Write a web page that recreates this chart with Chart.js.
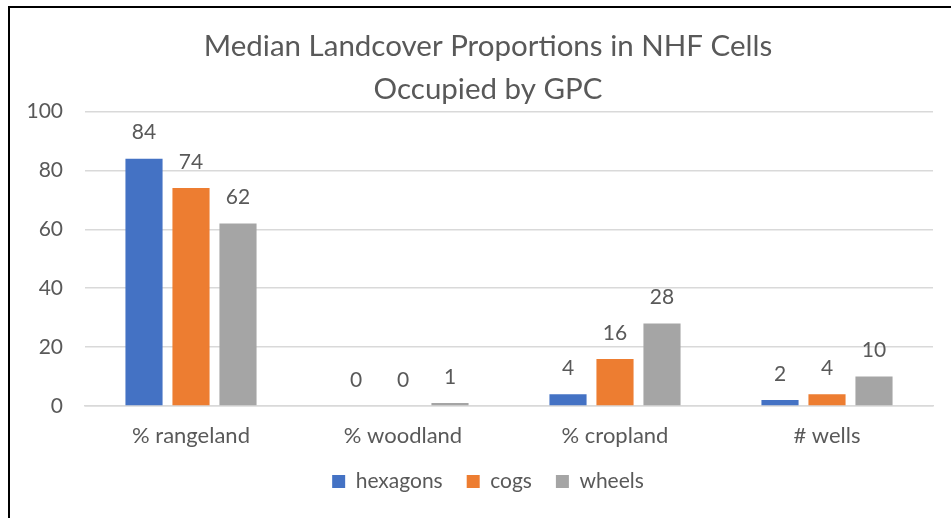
<!DOCTYPE html>
<html>
<head>
<meta charset="utf-8">
<script src="https://cdn.jsdelivr.net/npm/chart.js@4/dist/chart.umd.min.js"></script>
<style>
  html, body { margin: 0; padding: 0; background: #fff; overflow: hidden; }
  #frame {
    position: absolute; left: 8px; top: 6px;
    width: 958px; height: 512px;
    border-left: 2px solid #000; border-top: 2px solid #000;
    overflow: hidden;
  }
  #chart { display: block; }
</style>
</head>
<body>
<div id="frame"><canvas id="chart" width="956" height="510"></canvas></div>
<script>
// 数据
const categories = ['% rangeland', '% woodland', '% cropland', '# wells'];
const hexagons = [84, 0, 4, 2];
const cogs = [74, 0, 16, 4];
const wheels = [62, 1, 28, 10];
const titleLines = ['Median Landcover Proportions in NHF Cells', 'Occupied by GPC'];

const textColor = '#595959';
const fontFamily = 'Lato, "Open Sans", sans-serif';

// 柱顶数值标签
const valueLabels = {
  id: 'valueLabels',
  afterDatasetsDraw(chart) {
    const ctx = chart.ctx;
    ctx.save();
    ctx.fillStyle = textColor;
    ctx.font = '21px ' + fontFamily;
    ctx.textAlign = 'center';
    ctx.textBaseline = 'middle';
    chart.data.datasets.forEach((ds, i) => {
      chart.getDatasetMeta(i).data.forEach((bar, j) => {
        ctx.fillText(ds.data[j], bar.x, bar.y - 26);
      });
    });
    ctx.restore();
  }
};

new Chart(document.getElementById('chart').getContext('2d'), {
  type: 'bar',
  data: {
    labels: categories,
    datasets: [
      { label: 'hexagons', data: hexagons, backgroundColor: '#4472C4' },
      { label: 'cogs', data: cogs, backgroundColor: '#ED7D31' },
      { label: 'wheels', data: wheels, backgroundColor: '#A5A5A5' }
    ]
  },
  options: {
    responsive: false,
    animation: false,
    layout: { padding: { left: 0, right: 0, top: 0, bottom: 16 } },
    datasets: { bar: { categoryPercentage: 0.665, barPercentage: 0.79 } },
    scales: {
      x: {
        afterFit: (s) => { s.height = 41; },
        grid: { display: false, drawTicks: false },
        border: { color: '#d9d9d9', width: 1.5 },
        ticks: { color: textColor, font: { family: fontFamily, size: 22, lineHeight: 1 }, padding: 19 }
      },
      y: {
        min: 0, max: 100,
        afterFit: (s) => { s.width = 75; },
        grid: { color: '#d9d9d9', lineWidth: 1.5, drawTicks: false },
        border: { display: false },
        ticks: { stepSize: 20, color: textColor, font: { family: fontFamily, size: 21 }, padding: 22 }
      },
      // 右侧留白
      yRight: {
        position: 'right',
        afterFit: (s) => { s.width = 33; },
        grid: { display: false },
        border: { display: false },
        ticks: { display: false }
      }
    },
    plugins: {
      tooltip: { enabled: false },
      title: {
        display: true,
        text: titleLines,
        color: textColor,
        font: { family: fontFamily, size: 29.5, weight: 'normal', lineHeight: 1.45 },
        padding: { top: 17, bottom: 1 }
      },
      legend: {
        position: 'bottom',
        labels: {
          color: textColor,
          font: { family: fontFamily, size: 21, lineHeight: 1 },
          boxWidth: 13, boxHeight: 13, padding: 24
        }
      }
    }
  },
  plugins: [valueLabels]
});
</script>
</body>
</html>
